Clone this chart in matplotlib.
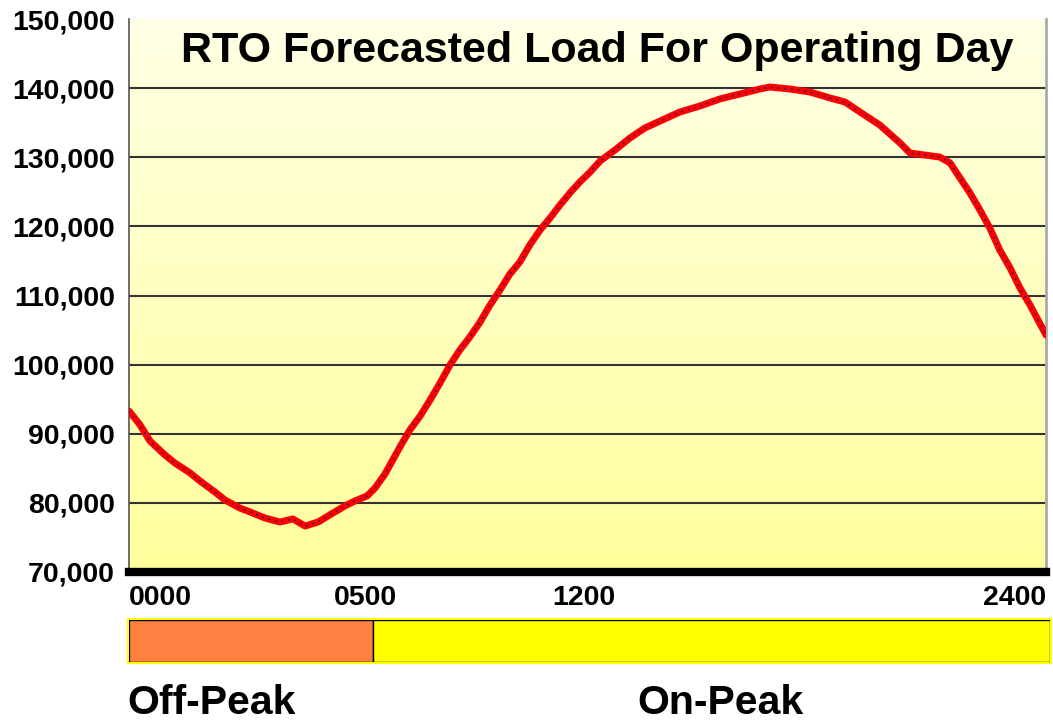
import matplotlib
matplotlib.use("Agg")
import matplotlib.pyplot as plt
import numpy as np
from matplotlib.patches import Rectangle
from matplotlib.colors import LinearSegmentedColormap

hours = [0.00, 0.29, 0.55, 0.94, 1.20, 1.60, 1.86, 2.25, 2.51, 2.90, 3.17, 3.56, 3.95,
         4.29, 4.61, 4.95, 5.34, 5.65, 5.91, 6.23, 6.44, 6.70, 7.09, 7.35, 7.62, 7.88,
         8.14, 8.40, 8.66, 8.92, 9.19, 9.45, 9.71, 9.97, 10.23, 10.49, 10.76, 11.02,
         11.28, 11.54, 11.80, 12.07, 12.33, 12.72, 13.11, 13.50, 13.90, 14.42, 14.94,
         15.46, 15.99, 16.51, 16.77, 17.30, 17.82, 18.35, 18.74, 19.13, 19.65, 20.18,
         20.44, 20.83, 21.22, 21.49, 21.75, 22.01, 22.27, 22.53, 22.79, 23.06, 23.32,
         23.58, 24.00]
load = [93290, 91270, 88950, 86930, 85770, 84320, 83160, 81570, 80420, 79260, 78680,
        77810, 77230, 77670, 76650, 77230, 78540, 79550, 80270, 81000, 82150, 84180,
        88080, 90540, 92570, 94880, 97340, 99950, 102120, 104000, 106170, 108630,
        110800, 113110, 114850, 117310, 119480, 121210, 123090, 124830, 126420, 127870,
        129460, 131050, 132780, 134230, 135240, 136550, 137410, 138430, 139150, 139870,
        140160, 139870, 139440, 138570, 137990, 136550, 134660, 132060, 130610, 130320,
        130030, 129170, 127000, 124830, 122370, 119760, 116580, 113980, 111080, 108630,
        104290]

y_ticks = [70000, 80000, 90000, 100000, 110000, 120000, 130000, 140000, 150000]
x_labels = ["0000", "0500", "1200", "2400"]
x_label_pos = [0.0, 6.2, 11.9, 24.0]
title = "RTO Forecasted Load For Operating Day"
offpeak_end = 6.35
period_labels = ["Off-Peak", "On-Peak"]

plt.rcParams['font.family'] = ['Liberation Sans', 'DejaVu Sans']

W, H = 1053, 722
fig = plt.figure(figsize=(W / 100, H / 100), dpi=100)

def fx(px):
    return px / W

def fy(py):
    return 1 - py / H

ax = fig.add_axes([fx(129), fy(572), fx(1046) - fx(129), fy(19) - fy(572)])
ax.set_xlim(0, 24)
ax.set_ylim(70000, 150000)

# gradient background
grad = np.linspace(0, 1, 256).reshape(-1, 1)
cmap = LinearSegmentedColormap.from_list("bg", ["#FFFF9C", "#FFFFE6"])
ax.imshow(grad, aspect='auto', cmap=cmap, extent=[0, 24, 70000, 150000],
          origin='lower', zorder=0)

for v in y_ticks[1:-1]:
    ax.axhline(v, color='#333333', lw=1.5, zorder=1)

ax.plot(hours, load, color='#FF0000', lw=5, solid_capstyle='round', zorder=3)
ax.plot(hours, load, color='#1A1A8C', lw=1.2, ls=(0, (1, 3)), zorder=4)

ax.set_yticks(y_ticks)
ax.set_yticklabels([f"{v:,}" for v in y_ticks], fontsize=20.5, fontweight='bold')
ax.tick_params(axis='y', length=0, pad=10)
ax.set_xticks([])
ax.spines['top'].set_visible(False)
ax.spines['left'].set_color('#555555')
ax.spines['left'].set_linewidth(1.2)
ax.spines['right'].set_color('#AAAAAA')
ax.spines['right'].set_linewidth(2)
ax.spines['bottom'].set_color('black')
ax.spines['bottom'].set_linewidth(6)

ax.text(0.511, 0.943, title, transform=ax.transAxes, ha='center', va='center',
        fontsize=31, fontweight='bold', zorder=5)

# x labels
for lab, pos in zip(x_labels, x_label_pos):
    ha = 'left' if pos == 0 else ('right' if pos == 24 else 'center')
    ax.text(pos, 66200, lab, ha=ha, va='center', fontsize=20.5, fontweight='bold',
            clip_on=False)

# period bar
bar = fig.add_axes([fx(129), fy(662), fx(1050) - fx(129), fy(620) - fy(662)])
bar.set_xlim(0, 24)
bar.set_ylim(0, 1)
bar.add_patch(Rectangle((0, 0), 24, 1, facecolor='none', edgecolor='#FFFF00', lw=3,
                        clip_on=False))
bar.add_patch(Rectangle((0, 0), offpeak_end, 1, facecolor='#FF8040', edgecolor='black', lw=1))
bar.add_patch(Rectangle((offpeak_end, 0), 24 - offpeak_end, 1, facecolor='#FFFF00',
                        edgecolor='black', lw=1))
bar.axis('off')

fig.text(fx(127), fy(721.5), period_labels[0], ha='left', va='bottom', fontsize=29.5,
         fontweight='bold')
fig.text(fx(637), fy(721.5), period_labels[1], ha='left', va='bottom', fontsize=29.5,
         fontweight='bold')

fig.savefig("out.png", dpi=100, facecolor='white')
